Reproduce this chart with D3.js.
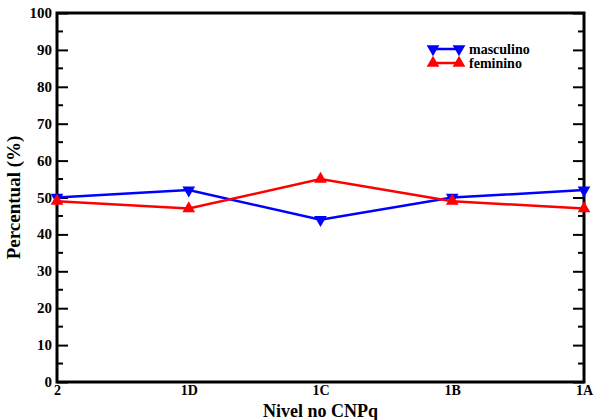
<!DOCTYPE html>
<html>
<head>
<meta charset="utf-8">
<script src="https://d3js.org/d3.v7.min.js"></script>
<style>
  body { margin: 0; background: #fff; }
  svg text { font-family: "Liberation Serif", "Times New Roman", Times, serif !important; font-weight: bold; }
</style>
</head>
<body>
<svg id="chart" width="594" height="420"></svg>
<script>
  // data
  const niveis = ["2", "1D", "1C", "1B", "1A"];
  const masculino = [50, 52, 44, 50, 52];
  const feminino = [49, 47, 55, 49, 47];
  const yTicks = [0, 10, 20, 30, 40, 50, 60, 70, 80, 90, 100];

  let svg = d3.select("svg#chart");
  let margin = {"top": 13, "right": 10, "bottom": 38, "left": 57};
  let width = 594 - margin.left - margin.right;
  let height = 420 - margin.top - margin.bottom;

  let xScale = d3.scalePoint().domain(niveis).range([0, width]);
  let yScale = d3.scaleLinear().domain([0, 100]).range([height, 0]);

  let g = svg.append("g")
    .attr("transform", "translate(" + margin.left + "," + margin.top + ")");

  // left axis, ticks pointing inward
  let yLeft = g.append("g")
    .call(d3.axisRight(yScale).tickValues(yTicks).tickSize(11).tickFormat(""));
  yLeft.select(".domain").remove();
  yLeft.selectAll("line").attr("stroke", "#000").attr("stroke-width", 2);

  // minor ticks left and right
  const minor = d3.range(5, 100, 10);
  minor.forEach(function(v) {
    g.append("line").attr("x1", 0).attr("x2", 6)
      .attr("y1", yScale(v)).attr("y2", yScale(v))
      .attr("stroke", "#000").attr("stroke-width", 2);
    g.append("line").attr("x1", width - 6).attr("x2", width)
      .attr("y1", yScale(v)).attr("y2", yScale(v))
      .attr("stroke", "#000").attr("stroke-width", 2);
  });

  // right axis ticks
  let yRight = g.append("g")
    .attr("transform", "translate(" + width + ",0)")
    .call(d3.axisLeft(yScale).tickValues(yTicks).tickSize(11).tickFormat(""));
  yRight.select(".domain").remove();
  yRight.selectAll("line").attr("stroke", "#000").attr("stroke-width", 2);

  // y tick labels
  yTicks.forEach(function(v) {
    g.append("text")
      .attr("x", -5).attr("y", yScale(v) + 5)
      .attr("text-anchor", "end")
      .attr("font-size", 15)
      .text(v);
  });

  // x tick labels
  let xAxis = g.append("g")
    .attr("transform", "translate(0," + height + ")")
    .call(d3.axisBottom(xScale).tickSize(0).tickPadding(3));
  xAxis.select(".domain").remove();
  xAxis.selectAll("text")
    .attr("font-size", 14)
    .attr("fill", "#000");

  // frame
  g.append("rect")
    .attr("x", 0).attr("y", 0)
    .attr("width", width).attr("height", height)
    .attr("fill", "none").attr("stroke", "#000").attr("stroke-width", 3);

  // axis titles
  svg.append("text")
    .attr("x", margin.left + width / 2).attr("y", 417)
    .attr("text-anchor", "middle").attr("font-size", 18)
    .text("Nivel no CNPq");
  svg.append("text")
    .attr("transform", "translate(20," + (margin.top + height / 2) + ") rotate(-90)")
    .attr("text-anchor", "middle").attr("font-size", 19)
    .text("Percentual (%)");

  const tri = d3.symbol().type(d3.symbolTriangle).size(70);
  let line = d3.line().x((d, i) => xScale(niveis[i])).y(d => yScale(d));

  function drawSeries(values, color, down) {
    g.append("path").datum(values)
      .attr("d", line)
      .attr("fill", "none").attr("stroke", color).attr("stroke-width", 2.5);
    values.forEach(function(v, i) {
      g.append("path")
        .attr("d", tri())
        .attr("fill", color)
        .attr("transform", "translate(" + xScale(niveis[i]) + "," + yScale(v) + ")" + (down ? " rotate(180)" : ""));
    });
  }
  drawSeries(masculino, "#0000ff", true);
  drawSeries(feminino, "#ff0000", false);

  // legend
  const legend = [
    {"label": "masculino", "color": "#0000ff", "down": true, "y": 49},
    {"label": "feminino", "color": "#ff0000", "down": false, "y": 63}
  ];
  legend.forEach(function(d) {
    svg.append("line")
      .attr("x1", 433).attr("x2", 459)
      .attr("y1", d.y).attr("y2", d.y)
      .attr("stroke", d.color).attr("stroke-width", 2.5);
    [433, 459].forEach(function(x) {
      svg.append("path")
        .attr("d", tri())
        .attr("fill", d.color)
        .attr("transform", "translate(" + x + "," + d.y + ")" + (d.down ? " rotate(180)" : ""));
    });
    svg.append("text")
      .attr("x", 469).attr("y", d.y + 5)
      .attr("font-size", 14)
      .text(d.label);
  });
</script>
</body>
</html>
